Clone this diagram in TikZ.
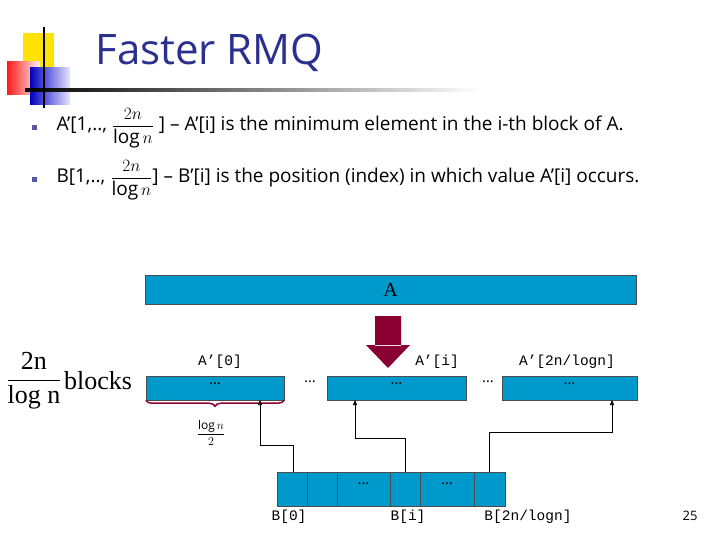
\documentclass[tikz,border=0pt]{standalone}
\usepackage{amsmath}
\usepackage{fontspec}
\setmainfont{Open Sans}
\newfontfamily\serifrm{Liberation Serif}
\setmonofont{Liberation Mono}
\usetikzlibrary{arrows.meta,decorations.pathreplacing,positioning}
\definecolor{cellblue}{HTML}{0099CC}
\definecolor{titleblue}{HTML}{2B2F8F}
\definecolor{arrowred}{HTML}{8B0033}
\tikzset{
  cell/.style={draw=black!70,fill=cellblue,inner sep=0pt,minimum height=#1},
  blk/.style={cell=24pt,minimum width=138pt},
  lbl/.style={font=\ttfamily\fontsize{14.5}{16}\selectfont},
  dots/.style={font=\fontsize{15}{16}\selectfont},
  link/.style={-{Triangle[length=5pt,width=4pt]},black,line width=0.6pt},
  bullet/.style={anchor=west,font=\fontsize{19}{21}\selectfont},
}
\begin{document}
\begin{tikzpicture}[x=1pt,y=-1pt]
\useasboundingbox (0,0) rectangle (720,540);
% title decoration
\fill[yellow!85!orange] (23,33) rectangle (54,67);
\fill[left color=red!90,right color=red!5] (7,62) rectangle (40,95);
\fill[left color=blue!75!black,right color=blue!10] (30,68) rectangle (70,105);
\shade[left color=black,right color=white,draw=none] (25,88.5) rectangle (480,91.5);
\draw[line width=1.5pt] (44,27) -- (44,108);
\node[anchor=west,text=titleblue,font=\fontsize{42}{44}\selectfont] (title) at (92,53) {Faster RMQ};
% bullets
\foreach \y in {128,180} \fill[titleblue!80] (32,\y-3) rectangle (37,\y+2);
\node[bullet] (l1) at (53,128)
  {A’[1,.., $\dfrac{2n}{\log n}$ ] – A’[i] is the minimum element in the i-th block of A.};
\node[bullet] (l2) at (53,180)
  {B[1,.., $\dfrac{2n}{\log n}$] – B’[i] is the position (index) in which value A’[i] occurs.};
% A array
\node[cell=29pt,minimum width=491pt,font=\serifrm\fontsize{20}{22}\selectfont] (A) at (390.5,289.5) {A};
\fill[arrowred] (375,316) rectangle (401,346) (366,345) -- (410,345) -- (388,368) -- cycle;
% A' blocks
\node[blk] (blk0) at (215,388) {};
\node[blk,minimum width=139pt] (blki) at (396.5,388) {};
\node[blk,minimum width=135pt] (blkn) at (569.5,388) {};
\foreach \b in {blk0,blki,blkn} \node[dots] at ([yshift=4pt]\b.center) {...};
\node[lbl] at (220,362) {A’[0]};
\node[lbl] at (437,362) {A’[i]};
\node[lbl] at (567,362) {A’[2n/logn]};
\node[dots] at (310,382) {…};
\node[dots] at (488,382) {…};
\draw[decorate,decoration={brace,mirror,amplitude=6pt,aspect=0.5},arrowred,line width=1.5pt]
  (blk0.south west) -- (blk0.south east);
\node[font=\fontsize{12}{13}\selectfont] at (211,433) {$\dfrac{\log n}{2}$};
\node[font=\serifrm\fontsize{26}{28}\selectfont] (frac) at (34,381)
  {\rule[-0pt]{0pt}{0pt}$\dfrac{\text{\serifrm 2n}}{\text{\serifrm log n}}$};
\node[anchor=west,font=\serifrm\fontsize{26}{28}\selectfont,inner sep=0pt] (nblk) at (64,381) {blocks};
% B array
\foreach \a/\b [count=\k] in {277/307,307/337,337/390,390/420,420/474,474/505}
  \node[cell=34pt,minimum width=\b pt-\a pt] (b\k) at ({(\a+\b)/2},489) {};
\node[dots] at ([yshift=5pt]b3.center) {...};
\node[dots] at ([yshift=5pt]b5.center) {...};
\node[lbl] at (289,517) {B[0]};
\node[lbl] at (408,517) {B[i]};
\node[lbl] at (528,517) {B[2n/logn]};
% pointers
\coordinate (t0) at (260,400);
\coordinate (ti) at (355,400);
\coordinate (tn) at (612,400);
\draw[link] (b1.north east) ++(-14,0) coordinate (s0) -- (s0 |- 0,445) -| (t0);
\draw[link] (b4.north) -- (b4.north |- 0,438) -| (ti);
\draw[link] (b6.north) -- (b6.north |- 0,432) -| (tn);
\node[font=\fontsize{13}{14}\selectfont] at (690,516) {25};
\end{tikzpicture}
\end{document}
